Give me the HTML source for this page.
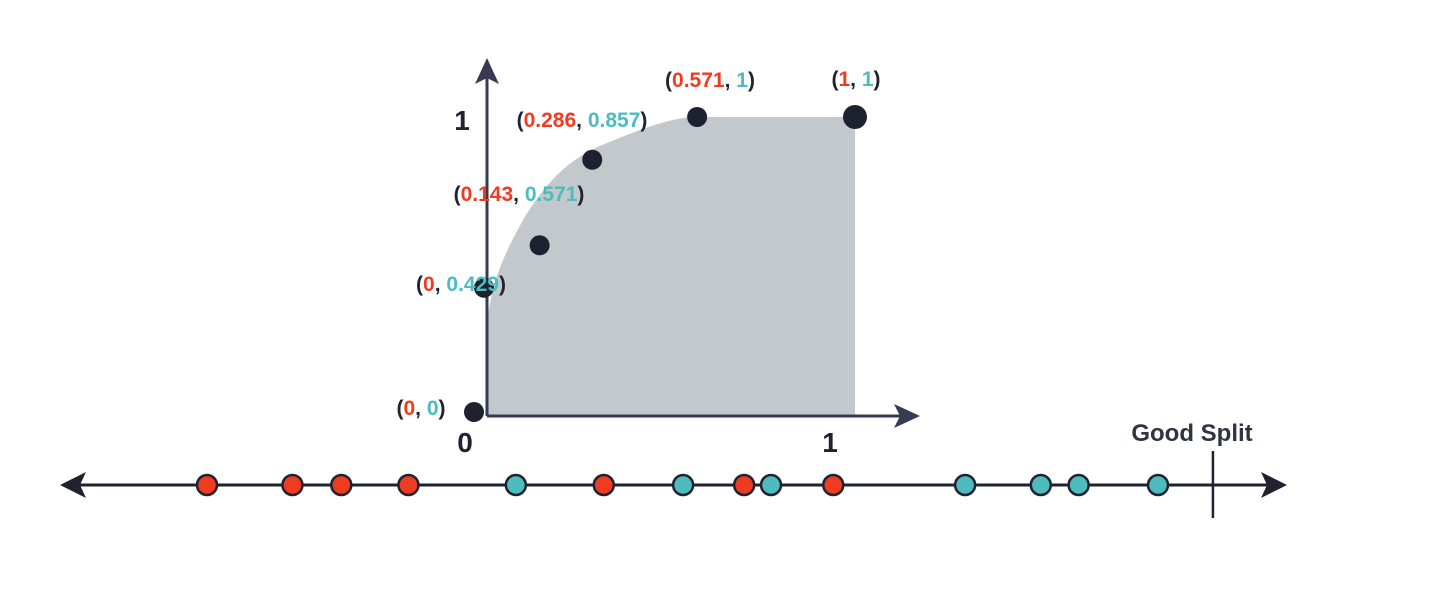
<!DOCTYPE html>
<html><head><meta charset="utf-8"><style>
html,body{margin:0;padding:0;background:#fff;}
svg{display:block;font-family:"Liberation Sans",sans-serif;}
</style></head><body>
<svg id="chart" width="1442" height="605" viewBox="0 0 1442 605">
<g id="roc"></g>
<g id="line"></g>
</svg>
<script>
const fprValues = [0, 0, 0.143, 0.286, 0.571, 1];
const tprValues = [0, 0.429, 0.571, 0.857, 1, 1];
const fprLabels = ["0", "0", "0.143", "0.286", "0.571", "1"];
const tprLabels = ["0", "0.429", "0.571", "0.857", "1", "1"];
const linePositions = [0.0, 0.07, 0.11, 0.165, 0.253, 0.325, 0.39, 0.44, 0.462, 0.513, 0.621, 0.683, 0.714, 0.779];
const lineClasses = ["r","r","r","r","t","r","t","r","t","r","t","t","t","t"];
const splitPosition = 0.824;

const NS = "http://www.w3.org/2000/svg";
const RED = "#ef3b1f", TEAL = "#4cbcbe", DARK = "#20232f";
const x0 = 487, x1 = 855, y0 = 416, y1 = 117;
const sx = v => x0 + v * (x1 - x0);
const sy = v => y0 - v * (y0 - y1);
const lx0 = 207, lx1 = 1158;
const slx = v => lx0 + v / 0.779 * (lx1 - lx0);

function mk(tag, attrs, parent) {
  const e = document.createElementNS(NS, tag);
  for (const k in attrs) e.setAttribute(k, attrs[k]);
  parent.appendChild(e);
  return e;
}
const roc = document.getElementById('roc');
const line = document.getElementById('line');

let d = `M${sx(0)},${sy(0)} L${sx(0)},${sy(0.3)} `;
d += `C${sx(0.01)},${sy(0.45)} ${sx(0.05)},${sy(0.55)} ${sx(0.1)},${sy(0.66)} `;
d += `C${sx(0.16)},${sy(0.78)} ${sx(0.22)},${sy(0.86)} ${sx(0.32)},${sy(0.91)} `;
d += `C${sx(0.42)},${sy(0.96)} ${sx(0.5)},${sy(1)} ${sx(fprValues[4])},${sy(1)} `;
d += `L${sx(1)},${sy(1)} L${sx(1)},${sy(0)} Z`;
const area = mk('path', {d: d, fill: '#c3c8cc'}, roc);



const ya = mk('line', {x1: x0, y1: y0, x2: x0, y2: 72, stroke: '#363a52', 'stroke-width': 3}, roc);


const yar = mk('path', {d: `M${x0},58 L${x0-12},84 L${x0},78 L${x0+12},84 Z`, fill: '#363a52'}, roc);


const xa = mk('line', {x1: x0, y1: y0, x2: 905, y2: y0, stroke: '#363a52', 'stroke-width': 3}, roc);


const xar = mk('path', {d: `M920,${y0} L894,${y0-12} L900,${y0} L894,${y0+12} Z`, fill: '#363a52'}, roc);



function txt(x, y, s, size, anchor, name, parent) {
  const t = mk('text', {x: x, y: y, 'font-size': size, 'font-weight': 'bold', 'text-anchor': anchor, fill: DARK}, parent);
  t.textContent = s;
  
  
  return t;
}
txt(462, 130, "1", 28, 'middle', 'y-tick-1', roc);
txt(465, 452, "0", 28, 'middle', 'x-tick-0', roc);
txt(830, 452, "1", 28, 'middle', 'x-tick-1', roc);

const labelPos = [[421, 415], [461, 291], [519, 201], [582, 127], [710, 87], [856, 86]];
for (let i = 0; i < fprValues.length; i++) {
  let cx = sx(fprValues[i]), cy = sy(tprValues[i]);
  if (i === 0) { cx -= 13; cy -= 4; }
  if (i === 1) { cx -= 3; }
  const c = mk('circle', {cx: cx, cy: cy, r: i === 5 ? 12 : 10, fill: '#1e2130'}, roc);
  
  
  const t = mk('text', {x: labelPos[i][0], y: labelPos[i][1], 'font-size': 21, 'font-weight': 'bold', 'text-anchor': 'middle', fill: DARK}, roc);
  
  
  const parts = [["(", DARK], [fprLabels[i], RED], [", ", DARK], [tprLabels[i], TEAL], [")", DARK]];
  for (const p of parts) { const s = mk('tspan', {fill: p[1]}, t); s.textContent = p[0]; }
}

const LY = 485;
const nl = mk('line', {x1: 72, y1: LY, x2: 1275, y2: LY, stroke: DARK, 'stroke-width': 3}, line);


const la = mk('path', {d: `M60,${LY} L86,${LY-13} L80,${LY} L86,${LY+13} Z`, fill: DARK}, line);


const ra = mk('path', {d: `M1287,${LY} L1261,${LY-13} L1267,${LY} L1261,${LY+13} Z`, fill: DARK}, line);


for (let i = 0; i < linePositions.length; i++) {
  const c = mk('circle', {cx: slx(linePositions[i]), cy: LY, r: 10, fill: lineClasses[i] === 'r' ? RED : TEAL, stroke: DARK, 'stroke-width': 2.5}, line);
  
  
}
const sp = mk('line', {x1: slx(splitPosition), y1: 451, x2: slx(splitPosition), y2: 518, stroke: DARK, 'stroke-width': 2.5}, line);


const gs = txt(1192, 441, "Good Split", 24, 'middle', 'split-label', line);
gs.setAttribute('fill', '#2e3440');
</script>
</body></html>
